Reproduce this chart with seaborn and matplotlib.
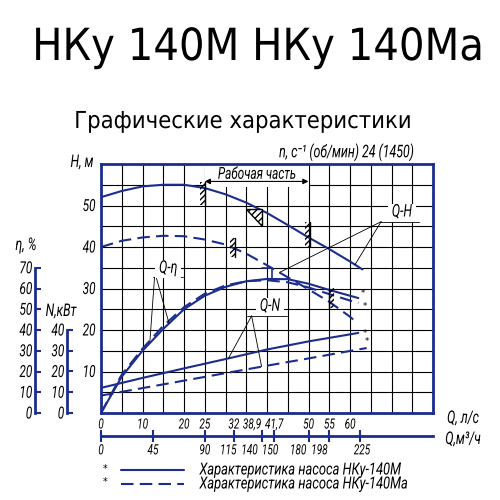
import numpy as np
import matplotlib
matplotlib.use("Agg")
import matplotlib.pyplot as plt
import seaborn as sns
from matplotlib.ticker import MultipleLocator
from matplotlib.patheffects import AbstractPathEffect
from matplotlib.transforms import Affine2D, ScaledTranslation

# подача, л/с  -> напор, м
q_h = [0, 5, 10, 15, 20, 25, 30, 35, 40, 45, 50, 55, 60, 63]
h_m = [52, 53.5, 54.6, 55, 55, 54.2, 52.7, 50.7, 48.2, 45.3, 42.3, 39.5, 36.5, 34.6]
q_ha = [0, 5, 10, 15, 20, 25, 30, 35, 40, 45, 50, 55, 60, 61]
h_ma = [40, 41.5, 42.3, 42.7, 42.6, 41.8, 40.6, 38.4, 35.6, 32.7, 29.8, 26.8, 23.2, 22.3]

# КПД, %
q_eta = [0, 5, 10, 15, 20, 25, 30, 35, 40, 45, 50, 55, 60, 62]
eta_m = [0, 17.5, 30, 40.5, 50, 56.5, 60.8, 63.5, 64.6, 64.5, 62.3, 59.3, 56.5, 55.4]
eta_ma = [0, 18.5, 31, 42, 51, 57.5, 61.5, 63.5, 64, 63, 60.5, 57.3, 54.2, 53]

# мощность, кВт
q_n = [0, 10, 20, 30, 40, 50, 60, 62]
n_m = [12.1, 16.9, 21.5, 26, 30.6, 34.5, 37.9, 38.6]
q_na = [0, 10, 20, 30, 40, 50, 60, 64]
n_ma = [8.4, 12, 15.6, 19.2, 22.8, 26.3, 29.9, 31.3]

q_ticks = [0, 10, 20, 25, 32, 38.9, 41.7, 50, 55, 60]
q_labels = ["0", "10", "20", "25", "32", "38,9", "41,7", "50", "55", "60"]
m3h_ticks = [0, 45, 90, 115, 140, 150, 180, 198, 225]
eta_ticks = [0, 10, 20, 30, 40, 50, 60, 70]
n_ticks = [0, 10, 20, 30, 40]
h_ticks = [10, 20, 30, 40, 50]

# сдвиг подписей (px), чтобы не налезали, как на чертеже
q_label_dx = [0, 0, 0, 0, 0, -10.5, 0, 0, 0, 0]
m3h_label_dx = [0, 0, 0, -5.5, -13, -4, -10.5, -10, 1.5]

BLUE = "#1b2d8f"
DASH = (0, (6, 3))

sns.set_style("white")
plt.rcParams["font.family"] = ["DejaVu Sans"]
plt.rcParams.update({"text.color": "black", "xtick.color": "black", "ytick.color": "black"})
GOST = dict(family=["Roboto", "DejaVu Sans"], style="italic")


class Narrow(AbstractPathEffect):
    """узкий и высокий чертежный шрифт"""

    def __init__(self, sx=0.85, sy=1.2, anchor=0.5):
        super().__init__()
        self.sx, self.sy, self.anchor = sx, sy, anchor

    def draw_path(self, renderer, gc, tpath, affine, rgbFace=None):
        ext = tpath.get_extents()
        cx = ext.x0 + self.anchor * (ext.x1 - ext.x0)
        t = Affine2D().translate(-cx, 0).scale(self.sx, self.sy).translate(cx, 0) + affine
        renderer.draw_path(gc, tpath, t, rgbFace)


def gost(t, anchor=0.5, dx=0):
    t.set_fontfamily(GOST["family"])
    t.set_fontstyle("italic")
    t.set_path_effects([Narrow(0.85, 1.2, anchor)])
    if dx:
        t.set_transform(t.get_transform() + ScaledTranslation(dx / 100, 0, fig.dpi_scale_trans))


fig = plt.figure(figsize=(5, 5), dpi=100)
ax = fig.add_axes([101 / 500, 87 / 500, 332 / 500, 249 / 500])

sns.lineplot(x=q_h, y=h_m, ax=ax, color=BLUE, lw=1.5, estimator=None, sort=False)
sns.lineplot(x=q_ha, y=h_ma, ax=ax, color=BLUE, lw=1.5, linestyle=DASH, estimator=None, sort=False)
line_m, line_ma = ax.lines[0], ax.lines[1]

ax_eta = ax.twinx()
ax_n = ax.twinx()
sns.lineplot(x=q_eta, y=eta_m, ax=ax_eta, color=BLUE, lw=1.5, estimator=None, sort=False)
sns.lineplot(x=q_eta, y=eta_ma, ax=ax_eta, color=BLUE, lw=1.5, linestyle=DASH, estimator=None, sort=False)
sns.lineplot(x=q_n, y=n_m, ax=ax_n, color=BLUE, lw=1.5, estimator=None, sort=False)
sns.lineplot(x=q_na, y=n_ma, ax=ax_n, color=BLUE, lw=1.5, linestyle=DASH, estimator=None, sort=False)

ax.set_xlim(0, 80)
ax.set_ylim(0, 60)
ax_eta.set_ylim(0, 120)
ax_n.set_ylim(0, 120)

# сетка 5 л/с x 5 м
ax.xaxis.remove_overlapping_locs = False
ax.yaxis.remove_overlapping_locs = False
ax.xaxis.set_minor_locator(MultipleLocator(5))
ax.yaxis.set_minor_locator(MultipleLocator(5))
ax.grid(False, which="major")
ax.grid(True, which="minor", color="black", lw=0.8)
ax.tick_params(which="minor", length=0)
for s in ax.spines.values():
    s.set_color(BLUE)
    s.set_linewidth(2)

ax.set_xticks(q_ticks)
ax.set_xticklabels(q_labels)
ax.set_yticks(h_ticks)
ax.tick_params(axis="x", direction="in", length=5, width=1.5, color=BLUE, labelcolor="black",
               pad=4, labelsize=8.5)
ax.tick_params(axis="y", length=0, pad=4, labelsize=10, labelcolor="black")
for t, dx in zip(ax.get_xticklabels(), q_label_dx):
    gost(t, dx=dx)
for t in ax.get_yticklabels():
    gost(t, anchor=1)

# шкалы КПД и мощности слева
for a, off, ticks in [(ax_eta, 66, eta_ticks), (ax_n, 34, n_ticks)]:
    for s in a.spines.values():
        s.set_visible(False)
    sp = a.spines["left"]
    sp.set_visible(True)
    sp.set_position(("outward", off * 0.72))
    sp.set_bounds(ticks[0], ticks[-1])
    sp.set_color(BLUE)
    sp.set_linewidth(2)
    a.yaxis.set_ticks_position("left")
    a.set_yticks(ticks)
    a.tick_params(axis="y", direction="in", length=4, width=1.5, color=BLUE, labelcolor="black",
                  pad=2, labelsize=10)
    for t in a.get_yticklabels():
        gost(t, anchor=1)

# вторая шкала подачи, м3/ч
sec = ax.secondary_xaxis(-23 / 249, functions=(lambda q: q * 3.6, lambda m: m / 3.6))
sec.set_xticks(m3h_ticks)
sec.spines["bottom"].set_color(BLUE)
sec.spines["bottom"].set_linewidth(2)
sec.tick_params(direction="inout", length=8, width=1.5, color=BLUE, labelcolor="black",
                pad=2, labelsize=8.5)
for t, dx in zip(sec.get_xticklabels(), m3h_label_dx):
    gost(t, dx=dx)

# рабочая часть
ax.fill_between([25, 50], 54.5, 60, color="white", zorder=1.6, lw=0)
ax.annotate("", xy=(25, 55.8), xytext=(50, 55.8),
            arrowprops=dict(arrowstyle="<|-|>", color="black", lw=0.8, shrinkA=0, shrinkB=0,
                            mutation_scale=8))
gost(ax.text(37.6, 57.4, "Рабочая часть", ha="center", va="center", fontsize=10, zorder=4))


def hatch_mark(a, q, v0, v1, side=-1):
    a.plot([q, q], [v0, v1], color="black", lw=1.0, zorder=3)
    x0, x1 = sorted([q, q + side * 1.2])
    a.fill_betweenx([v0, v1], x0, x1, facecolor="none", edgecolor="black",
                    hatch="//////", lw=0, zorder=3)


hm25 = np.interp(25, q_h, h_m)
hm50 = np.interp(50, q_h, h_m)
hatch_mark(ax, 25, hm25 - 4, hm25 + 1.5)
hatch_mark(ax, 50.4, hm50 - 2.3, hm50 + 3.7)
hma32 = np.interp(32.3, q_ha, h_ma)
hatch_mark(ax, 32.3, hma32 - 2, hma32 + 2.5)
eta55 = np.interp(55, q_eta, eta_m)
hatch_mark(ax_eta, 55, eta55 - 8.5, eta55 + 1, side=1)
ax.fill([35, 38.7, 38.7], [49.2, 49.2, 45], facecolor="white", edgecolor="black",
        hatch="/////", lw=1.0, zorder=3)
ax.plot([38.8, 41.2, 41.2], [35, 35, 32.6], color=BLUE, lw=1.2, zorder=3)

# подписи кривых
lab = dict(ha="center", va="center", fontsize=10.5, zorder=5,
           bbox=dict(fc="white", ec="none", pad=1.5))
lead = dict(color="black", lw=0.6, zorder=4)

gost(ax.text(72.5, 48.3, "Q-H", **lab))
ax.plot([67.2, 76.6], [46.1, 46.1], **lead)
ax.plot([67.5, 61.2], [46.1, np.interp(61.2, q_h, h_m)], **lead)
ax.plot([67.5, 43], [46.1, np.interp(43, q_ha, h_ma)], **lead)

gost(ax_eta.text(16.2, 69.5, "Q-η", **lab))
ax_eta.plot([12.5, 19.8], [65.4, 65.4], **lead)
ax_eta.plot([12.9, 11.8], [65.4, np.interp(11.8, q_eta, eta_ma)], **lead)
ax_eta.plot([13.3, 16.4], [65.4, np.interp(16.4, q_eta, eta_m)], **lead)

gost(ax_n.text(40.7, 51.2, "Q-N", **lab))
ax_n.plot([35.2, 44.8], [46.8, 46.8], **lead)
ax_n.plot([36.3, 30.7], [46.8, np.interp(30.7, q_n, n_m)], **lead)
ax_n.plot([36.3, 38.7], [46.8, np.interp(38.7, q_na, n_ma)], **lead)

# звездочки у концов кривых
for a, qq, vv, off in [(ax_eta, q_eta, eta_m, (3.5, 3.5)), (ax_eta, q_eta, eta_ma, (5, -2.5)),
                       (ax_n, q_n, n_m, (5, -0.5)), (ax_n, q_na, n_ma, (0, 4.5))]:
    a.annotate("*", xy=(qq[-1], vv[-1]), xytext=off, textcoords="offset points",
               ha="center", va="center", fontsize=6, zorder=5)

ax.set_xlim(0, 80)

# надписи
title = fig.text(258 / 500, 1 - 60 / 500, "НКу 140М НКу 140Ма", ha="center", va="baseline",
                 fontsize=29, family="DejaVu Sans")
title.set_path_effects([Narrow(1.0, 1.1)])
sub = fig.text(242 / 500, 1 - 128 / 500, "Графические характеристики", ha="center",
               va="baseline", fontsize=15.3, family="DejaVu Sans")
sub.set_path_effects([Narrow(1.0, 1.1)])
txt = dict(ha="center", va="center", fontsize=10.5)
gost(fig.text(82 / 500, 1 - 163 / 500, "H, м", **txt))
gost(fig.text(347 / 500, 1 - 153 / 500, "n, с⁻¹ (об/мин) 24 (1450)", **txt))
gost(fig.text(26 / 500, 1 - 246 / 500, "η, %", **txt))
gost(fig.text(61 / 500, 1 - 312 / 500, "N,кВт", **txt))
gost(fig.text(463 / 500, 1 - 419 / 500, "Q, л/с", **txt))
gost(fig.text(463 / 500, 1 - 440 / 500, "Q,м³/ч", **txt))

leg = fig.legend(handles=[line_m, line_ma],
                 labels=["Характеристика насоса НКу-140М", "Характеристика насоса НКу-140Ма"],
                 loc="upper left", bbox_to_anchor=(121 / 500, 1 - 463.5 / 500), frameon=False,
                 handlelength=4.5, handletextpad=1.15, labelspacing=0, borderpad=0,
                 borderaxespad=0, prop=dict(size=10, family=GOST["family"], style="italic"))
for t in leg.get_texts():
    t.set_path_effects([Narrow(0.93, 1.2, 0)])
for y in (469, 482):
    fig.text(105 / 500, 1 - y / 500, "*", ha="center", va="center", fontsize=7)

fig.savefig("out.png", dpi=100)
